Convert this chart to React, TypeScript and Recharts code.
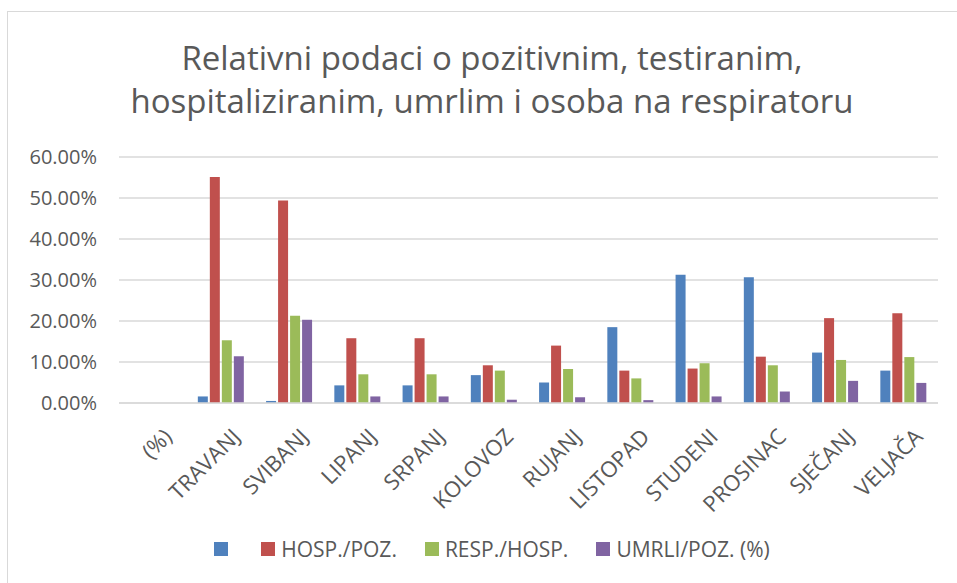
import { BarChart, Bar, XAxis, YAxis, CartesianGrid } from 'recharts';

const categories = ['(%)', 'TRAVANJ', 'SVIBANJ', 'LIPANJ', 'SRPANJ', 'KOLOVOZ', 'RUJANJ', 'LISTOPAD', 'STUDENI', 'PROSINAC', 'SJEČANJ', 'VELJAČA'];
const pozTest = [null, 1.6, 0.5, 4.3, 4.3, 6.8, 5.0, 18.5, 31.3, 30.7, 12.3, 7.9];
const hospPoz = [null, 55.1, 49.4, 15.8, 15.8, 9.2, 14.0, 7.9, 8.4, 11.3, 20.7, 21.9];
const respHosp = [null, 15.3, 21.3, 7.0, 7.0, 7.9, 8.3, 6.0, 9.7, 9.2, 10.5, 11.2];
const umrliPoz = [null, 11.4, 20.3, 1.6, 1.6, 0.8, 1.4, 0.7, 1.6, 2.8, 5.4, 4.9];
const yTicks = [0, 10, 20, 30, 40, 50, 60];

const series = [
    { key: 'pozTest', label: '', color: '#4F81BD' },
    { key: 'hospPoz', label: 'HOSP./POZ.', color: '#C0504D' },
    { key: 'respHosp', label: 'RESP./HOSP.', color: '#9BBB59' },
    { key: 'umrliPoz', label: 'UMRLI/POZ. (%)', color: '#8064A2' },
];

const data = categories.map((name, i) => ({
    name,
    pozTest: pozTest[i],
    hospPoz: hospPoz[i],
    respHosp: respHosp[i],
    umrliPoz: umrliPoz[i],
}));

const FONT = '"Open Sans", Lato, sans-serif';
const TEXT = '#595959';

// month labels, rotated like Excel: top-right corner sits just right of the category centre
function MonthTick({ x, y, payload }: any) {
    const ax = x + 9;
    const ay = y + 16;
    return (
        <text
            x={ax}
            y={ay}
            dy="0.72em"
            textAnchor="end"
            transform={`rotate(-45, ${ax}, ${ay})`}
            fill={TEXT}
            fontSize={22}
            fontFamily={FONT}
        >
            {payload.value}
        </text>
    );
}

export default function App() {
    return (
        <div style={{ position: 'absolute', left: 0, top: 0, width: 957, height: 583, background: '#fff', fontFamily: FONT, overflow: 'hidden' }}>
            <div style={{ position: 'absolute', left: 7, top: 11, right: -5, bottom: -5, border: '1.5px solid #d9d9d9' }} />
            <div style={{ position: 'absolute', left: 0, top: 36, width: 984, textAlign: 'center', color: TEXT, fontSize: 33, lineHeight: '43px' }}>
                Relativni podaci o pozitivnim, testiranim,
                <br />
                hospitaliziranim, umrlim i osoba na respiratoru
            </div>
            <div style={{ position: 'absolute', left: 0, top: 0 }}>
                <BarChart
                    width={957}
                    height={583}
                    data={data}
                    margin={{ top: 157, right: 19, left: 19, bottom: 80 }}
                    barCategoryGap="15.5%"
                    barGap={2}
                >
                    <CartesianGrid vertical={false} stroke="#d9d9d9" strokeWidth={1.3} />
                    <XAxis
                        dataKey="name"
                        interval={0}
                        height={100}
                        tickLine={false}
                        axisLine={{ stroke: '#d9d9d9', strokeWidth: 1.3 }}
                        tick={<MonthTick />}
                    />
                    <YAxis
                        width={100}
                        domain={[0, 60]}
                        ticks={yTicks}
                        tickLine={false}
                        axisLine={false}
                        tickMargin={16}
                        tick={{ fill: TEXT, fontSize: 20, fontFamily: FONT }}
                        tickFormatter={(v: number) => `${v.toFixed(2)}%`}
                    />
                    {series.map((s) => (
                        <Bar key={s.key} dataKey={s.key} name={s.label} fill={s.color} isAnimationActive={false} />
                    ))}
                </BarChart>
            </div>
            <div style={{ position: 'absolute', left: 0, top: 535, width: 984, display: 'flex', justifyContent: 'center', color: TEXT, fontSize: 21, lineHeight: '28px' }}>
                {series.map((s, i) => (
                    <div
                        key={s.key}
                        style={{ display: 'flex', alignItems: 'center', marginRight: i === series.length - 1 ? 0 : s.label ? 28 : 33 }}
                    >
                        <span style={{ display: 'inline-block', width: 14, height: 14, background: s.color, marginRight: s.label ? 6 : 0 }} />
                        <span>{s.label}</span>
                    </div>
                ))}
            </div>
        </div>
    );
}
